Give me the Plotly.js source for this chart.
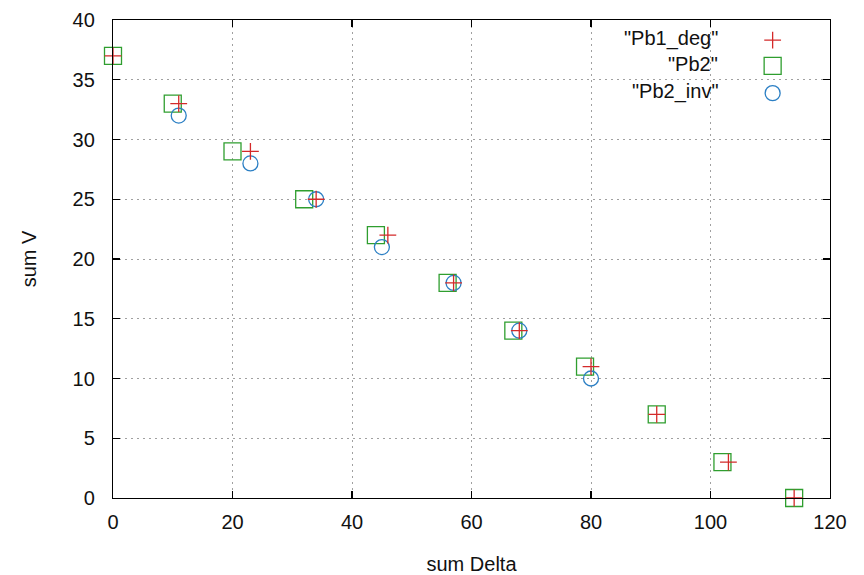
<!DOCTYPE html>
<html>
<head>
<meta charset="utf-8">
<script src="https://cdn.plot.ly/plotly-3.0.1.min.js"></script>
<style>html,body{margin:0;padding:0;background:#fff;}#chart{width:864px;height:575px;}</style>
</head>
<body>
<div id="chart"></div>
<script>
// Data
const seriesNames = ['"Pb1_deg"', '"Pb2"', '"Pb2_inv"'];
const pb1degX = [0, 11, 23, 34, 46, 57, 68, 80, 91, 103, 114];
const pb1degY = [37, 33, 29, 25, 22, 18, 14, 11, 7, 3, 0];
const pb2X = [0, 10, 20, 32, 44, 56, 67, 79, 91, 102, 114];
const pb2Y = [37, 33, 29, 25, 22, 18, 14, 11, 7, 3, 0];
const pb2invX = [11, 23, 34, 45, 57, 68, 80];
const pb2invY = [32, 28, 25, 21, 18, 14, 10];
const xTicks = [0, 20, 40, 60, 80, 100, 120];
const yTicks = [0, 5, 10, 15, 20, 25, 30, 35, 40];

const FONT = 'Liberation Sans, Arial, sans-serif';
const colors = ['#d42a2a', '#2f9e2f', '#2b7fc4'];
const symbols = ['cross-thin-open', 'square-open', 'circle-open'];
const sizes = [12, 17, 15];
const xs = [pb1degX, pb2X, pb2invX];
const ys = [pb1degY, pb2Y, pb2invY];

const traces = [];
// Draw order: squares, circles, then pluses on top
[1, 2, 0].forEach(i => {
  traces.push({
    type: 'scatter', mode: 'markers', name: seriesNames[i],
    x: xs[i], y: ys[i], cliponaxis: false, showlegend: false,
    marker: {symbol: symbols[i], size: sizes[i], color: colors[i],
             line: {color: colors[i], width: 1.3}}
  });
});

// gnuplot-style key: text right-aligned, sample symbol to its right
const keyY = [0.958, 0.904, 0.847];
const keyX = 0.920;
for (let i = 0; i < 3; i++) {
  traces.push({
    type: 'scatter', mode: 'markers', xaxis: 'x2', yaxis: 'y2',
    x: [keyX], y: [keyY[i]], showlegend: false, hoverinfo: 'skip', cliponaxis: false,
    marker: {symbol: symbols[i], size: sizes[i], color: colors[i],
             line: {color: colors[i], width: 1.3}}
  });
}
const annotations = seriesNames.map((t, i) => ({
  xref: 'paper', yref: 'paper', x: 0.846, y: keyY[i] + 0.004,
  xanchor: 'right', yanchor: 'middle', text: t, showarrow: false,
  font: {family: FONT, size: 20, color: '#111'}
}));

const axisCommon = {
  showline: true, linecolor: '#000', linewidth: 1.2, mirror: 'allticks',
  ticks: 'inside', ticklen: 7, tickcolor: '#000', tickwidth: 1.2,
  showgrid: true, gridcolor: '#a0a0a0', griddash: '2px,4px', gridwidth: 1,
  zeroline: false, fixedrange: true,
  tickfont: {family: FONT, size: 20, color: '#111'}
};

const layout = {
  width: 864, height: 575,
  margin: {l: 113, r: 34, t: 20, b: 77},
  paper_bgcolor: '#fff', plot_bgcolor: '#fff',
  showlegend: false,
  xaxis: Object.assign({}, axisCommon, {
    range: [0, 120], tickvals: xTicks, ticklabelstandoff: 6,
    title: {text: 'sum Delta', standoff: 24, font: {family: FONT, size: 20, color: '#111'}}
  }),
  yaxis: Object.assign({}, axisCommon, {
    range: [0, 40], tickvals: yTicks, ticklabelstandoff: 13,
    title: {text: 'sum V', standoff: 30, font: {family: FONT, size: 20, color: '#111'}}
  }),
  xaxis2: {overlaying: 'x', range: [0, 1], visible: false, fixedrange: true},
  yaxis2: {overlaying: 'y', range: [0, 1], visible: false, fixedrange: true},
  annotations: annotations
};

Plotly.newPlot('chart', traces, layout, {displayModeBar: false, staticPlot: true});
</script>
</body>
</html>
